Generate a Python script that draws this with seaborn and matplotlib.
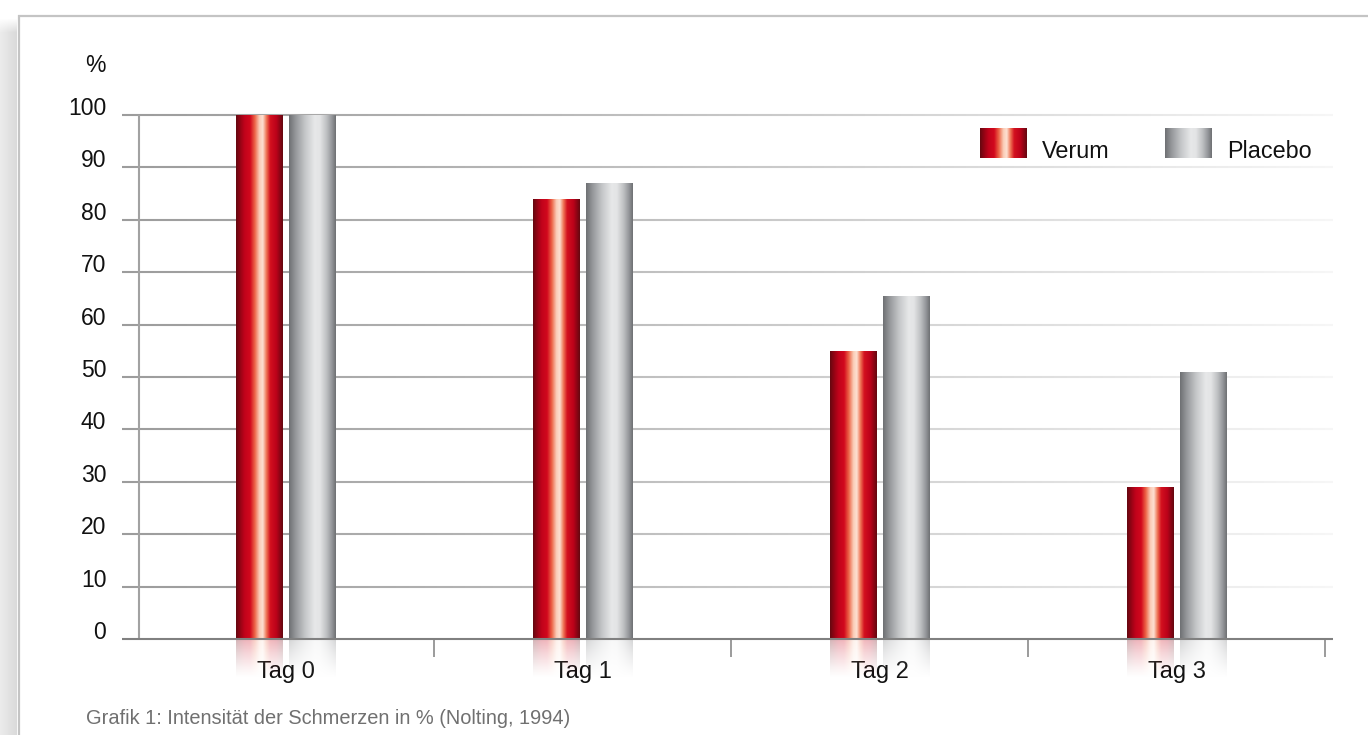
import numpy as np
import pandas as pd
import matplotlib
matplotlib.use("Agg")
import matplotlib.pyplot as plt
import seaborn as sns
from matplotlib.colors import LinearSegmentedColormap, to_rgb
from matplotlib.collections import LineCollection

# ---- data -------------------------------------------------------------
days = ["Tag 0", "Tag 1", "Tag 2", "Tag 3"]
series = ["Verum", "Placebo"]
verum = [100, 84, 55, 29]
placebo = [100, 87, 65.5, 51]
yticks = list(range(0, 101, 10))
caption = "Grafik 1: Intensität der Schmerzen in % (Nolting, 1994)"

df = pd.DataFrame({
    "Tag": days * 2,
    "Gruppe": [series[0]] * len(days) + [series[1]] * len(days),
    "Wert": verum + placebo,
})

# ---- styling helpers ----------------------------------------------------
RED_STOPS = [(0.00, "#640810"), (0.08, "#900414"), (0.18, "#c0021b"),
             (0.30, "#d2081d"), (0.40, "#ec6446"), (0.50, "#fbcdb8"),
             (0.57, "#fde0d2"), (0.65, "#ef7555"), (0.73, "#d3101f"),
             (0.86, "#bc021a"), (1.00, "#640810")]
GRAY_STOPS = [(0.00, "#6e7073"), (0.15, "#989a9d"), (0.35, "#c6c8ca"),
              (0.55, "#e7e8e9"), (0.66, "#e3e4e5"), (0.80, "#bfc1c3"),
              (0.92, "#929498"), (1.00, "#6e7073")]


def gradient(stops, n=256):
    cmap = LinearSegmentedColormap.from_list("g", [(p, to_rgb(c)) for p, c in stops])
    return cmap(np.linspace(0, 1, n))[:, :3]


GRADS = {"Verum": gradient(RED_STOPS), "Placebo": gradient(GRAY_STOPS)}
PALETTE = {"Verum": "#c0021a", "Placebo": "#b0b2b4"}

W, H, DPI = 1368, 735, 100
sns.set_theme(style="white")
plt.rcParams["font.family"] = ["Liberation Sans", "DejaVu Sans"]

fig = plt.figure(figsize=(W / DPI, H / DPI), dpi=DPI)
fig.patch.set_facecolor("white")

# ---- page frame with soft shadow on the left ---------------------------
bg = fig.add_axes([0, 0, 1, 1], zorder=-10)
page = np.ones((H, W, 3))
sx = np.linspace(0.925, 0.855, 17)
fade = np.clip((np.arange(H) - 18) / 14.0, 0, 1)
for i, v in enumerate(sx):
    col = 1.0 - (1.0 - v) * fade
    page[:, i, :] = col[:, None]
bg.imshow(page, extent=[0, W, H, 0], interpolation="bilinear", aspect="auto")
bg.plot([18, W], [15.5, 15.5], color="#c4c4c4", lw=1.6, solid_capstyle="butt")
bg.plot([18.5, 18.5], [15, H], color="#c4c4c4", lw=1.6, solid_capstyle="butt")
bg.set_xlim(0, W)
bg.set_ylim(H, 0)
bg.axis("off")

# ---- main axes ----------------------------------------------------------
L, R, T, B = 139, 1333, 115, 639
ax = fig.add_axes([L / W, 1 - B / H, (R - L) / W, (B - T) / H])
ax.set_facecolor("none")

sns.barplot(data=df, x="Tag", y="Wert", hue="Gruppe", order=days,
            hue_order=series, palette=PALETTE, saturation=1,
            width=0.36, gap=0.13, legend=False, errorbar=None, ax=ax)

CX0, STEP = 285.5, 297.0          # pixel centre of first category, pixels per category
xlim = ((L - CX0) / STEP, (R - CX0) / STEP)
x_grid_start = (122 - CX0) / STEP
refl_h = 40 / ((B - T) / 100.0)    # reflection height in data units

for p in list(ax.patches):
    fc = p.get_facecolor()[:3]
    name = min(series, key=lambda s: np.sum((np.array(to_rgb(PALETTE[s])) - fc) ** 2))
    g = GRADS[name]
    x0, w, h = p.get_x(), p.get_width(), p.get_height()
    p.set_facecolor("none")
    p.set_edgecolor("none")
    im = ax.imshow(g[None, :, :], extent=(x0, x0 + w, 0, h), aspect="auto",
                   interpolation="bilinear", zorder=3)
    im.set_clip_path(p)
    # faded mirror image below the baseline
    n = 60
    t = np.linspace(0, 1, n)
    alpha = 0.30 * (1 - t) ** 1.3
    rgba = np.zeros((n, g.shape[0], 4))
    rgba[:, :, :3] = g[None, :, :]
    rgba[:, :, 3] = alpha[:, None]
    ax.imshow(rgba, extent=(x0, x0 + w, -refl_h, 0), aspect="auto",
              interpolation="bilinear", zorder=3, clip_on=False)

ax.set_xlim(*xlim)
ax.set_ylim(0, 100)
for s in ax.spines.values():
    s.set_visible(False)

# horizontal grid lines fading towards the right
nseg = 300
xs = np.linspace(x_grid_start, xlim[1], nseg + 1)
frac = np.linspace(0, 1, nseg)
c0, c1 = np.array(to_rgb("#9c9c9c")), np.array(to_rgb("#f6f6f6"))
seg_cols = c0[None, :] + (c1 - c0)[None, :] * frac[:, None] ** 1.1
for yv in yticks[1:]:
    segs = [[(xs[i], yv), (xs[i + 1], yv)] for i in range(nseg)]
    lc = LineCollection(segs, colors=seg_cols, linewidths=1.5, zorder=1,
                        clip_on=False)
    ax.add_collection(lc)

# axis lines
ax.plot([x_grid_start, xlim[1]], [0, 0], color="#808080", lw=1.5,
        zorder=4, clip_on=False, solid_capstyle="butt")
ax.plot([xlim[0], xlim[0]], [0, 100], color="#a2a2a2", lw=1.5,
        zorder=2, clip_on=False, solid_capstyle="butt")

# ticks and labels
ax.set_yticks(yticks)
ax.set_yticklabels([str(v) for v in yticks])
ax.tick_params(axis="y", length=0, pad=23.5, labelsize=16.5, labelcolor="#111111")
for lbl in ax.get_yticklabels():
    lbl.set_verticalalignment("baseline")

ax.set_xticks(range(len(days)))
ax.set_xticklabels(days)
ax.set_xticks([i + 0.5 for i in range(len(days))], minor=True)
ax.tick_params(axis="x", which="major", length=0, pad=16, labelsize=17,
               labelcolor="#111111")
ax.tick_params(axis="x", which="minor", length=13, width=1.2,
               color="#8a8a8a", direction="out", bottom=True)
ax.set_xlabel("")
ax.set_ylabel("")

# unit label
fig.text(106 / W, 1 - 72 / H, "%", ha="right", va="baseline", fontsize=16.5,
         color="#111111")

# ---- legend -------------------------------------------------------------
leg_items = [("Verum", 980, 1042), ("Placebo", 1165, 1227)]
for name, sx0, tx in leg_items:
    lax = fig.add_axes([sx0 / W, 1 - 158 / H, 47 / W, 30 / H])
    lax.imshow(GRADS[name][None, :, :], aspect="auto", interpolation="bilinear")
    lax.axis("off")
    fig.text(tx / W, 1 - 158 / H, name, ha="left", va="baseline",
             fontsize=16.8, color="#111111")

# ---- caption ------------------------------------------------------------
fig.text(86 / W, 1 - 724 / H, caption, ha="left", va="baseline",
         fontsize=14.4, color="#707070")

fig.savefig("out.png", dpi=DPI, facecolor="white")
